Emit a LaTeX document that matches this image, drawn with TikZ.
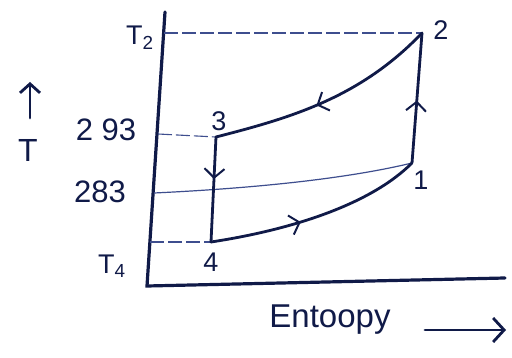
\documentclass[tikz,border=0pt]{standalone}
\usepackage{fontspec}
\setmainfont{Liberation Sans}
\usetikzlibrary{arrows.meta,decorations.markings}
\definecolor{ink}{HTML}{101A48}
\definecolor{faint}{HTML}{3E4E8E}
\tikzset{
  x=1pt,y=-1pt,
  curve/.style={ink,line width=2.8pt,line cap=round},
  guide/.style={faint,line width=1.1pt,dash pattern=on 14pt off 4pt},
  lbl/.style={ink,font=\fontsize{27}{27}\selectfont,inner sep=0pt},
  big/.style={font=\fontsize{31}{31}\selectfont},
  midarrow/.style={postaction={decorate,decoration={markings,
      mark=at position #1 with {\arrow[line width=2pt]{Straight Barb[length=9pt,width=20pt]}}}}}
}
\begin{document}
\begin{tikzpicture}
\useasboundingbox (0,0) rectangle (512,358);
\fill[white] (0,0) rectangle (512,358);
% points
\coordinate (ytop) at (165,12);
\coordinate (o) at (147,286);
\coordinate (xend) at (505,278);
\coordinate (p2) at (422,33);
\coordinate (p1) at (412,163);
\coordinate (p3) at (216,137);
\coordinate (p4) at (211,242);
\coordinate (t2) at (164,33);
\coordinate (t293) at (158,134);
\coordinate (t283) at (154,193);
\coordinate (t4) at (150,242);
% axes
\draw[curve,line width=3.2pt] (ytop) -- (o) -- (xend);
% guide lines
\draw[guide] (t2) -- (p2);
\draw[guide] (t293) -- (p3);
\draw[faint,line width=1.2pt] (t283) .. controls (260,188) and (350,178) .. (p1);
\draw[guide] (t4) -- (p4);
% cycle
\draw[curve,midarrow=0.48] (p1) -- (p2);
\draw[curve,midarrow=0.55] (p2) .. controls (360,98) and (290,118) .. (p3);
\draw[curve,midarrow=0.4] (p3) -- (p4);
\draw[curve,midarrow=0.42] (p4) .. controls (290,230) and (370,205) .. (p1);
% labels
\node[lbl] (l2) at (441,30) {2};
\node[lbl] (l1) at (421,180) {1};
\node[lbl] (l3) at (219,121) {3};
\node[lbl] (l4) at (211,262) {4};
\node[lbl] (lT2) at (140,38) {T\textsubscript{2}};
\node[lbl,big] (l293) at (106,130) {2 93};
\node[lbl,big] (l283) at (100,192) {283};
\node[lbl] (lT4) at (112,266) {T\textsubscript{4}};
\node[lbl,font=\fontsize{32}{32}\selectfont] (lT) at (28,150) {T};
\coordinate (ta) at (30,118);
\coordinate (tb) at (30,82);
\draw[curve,-{Straight Barb[length=9pt,width=20pt]}] (ta) -- (tb);
\node[lbl,font=\fontsize{33}{33}\selectfont] (lS) at (330,320) {Entoopy};
\coordinate (sa) at (425,330);
\coordinate (sb) at (506,330);
\draw[curve,-{Straight Barb[length=11pt,width=24pt]}] (sa) -- (sb);
\end{tikzpicture}
\end{document}
